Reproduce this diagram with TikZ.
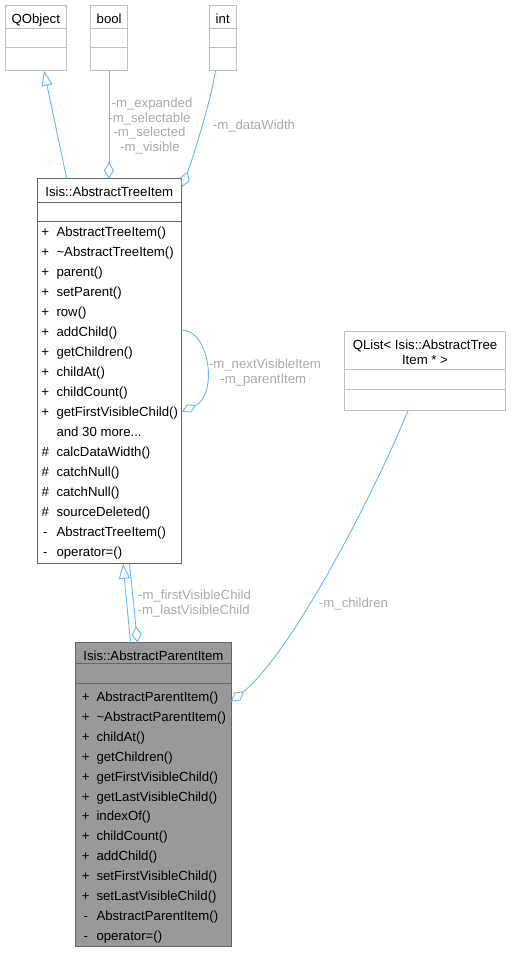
\documentclass[tikz,border=0pt]{standalone}
\usepackage{fontspec}
\setmainfont{Liberation Sans}
\usetikzlibrary{arrows.meta,calc}
\definecolor{edgeblue}{HTML}{63B8FF}
\definecolor{lblgray}{HTML}{ABABAB}
\definecolor{bdark}{HTML}{666666}
\definecolor{blight}{HTML}{BFBFBF}
\definecolor{pfill}{HTML}{999999}
\newcommand\moretxt{and 30 more...}
\begin{document}
\begin{tikzpicture}[x=1pt,y=-1pt,
  every node/.style={font=\fontsize{13.2}{15}\selectfont, inner sep=0pt, outer sep=0pt},
  umlbox/.style={draw=bdark, line width=0.9pt, rectangle, anchor=north west, inner sep=0pt},
  extbox/.style={umlbox, draw=blight},
  sepd/.style={line width=0.9pt, draw=bdark},
  sepl/.style={line width=0.9pt, draw=blight},
  ttl/.style={anchor=base},
  mem/.style={anchor=base west},
  sgn/.style={anchor=base},
  lbl/.style={text=lblgray, anchor=base},
  edge/.style={draw=edgeblue, line width=0.9pt},
  inh/.style={edge, -{Triangle[open,length=15pt,width=11pt]}},
  agg/.style={edge, {Diamond[open,length=16.5pt,width=10pt]}-},
  aggend/.style={edge, -{Diamond[open,length=15.5pt,width=9pt]}},
]
\useasboundingbox (0,0) rectangle (511,953);

% ---------- external boxes ----------
\node[extbox, minimum width=61.7pt, minimum height=65.7pt] (qobj) at (5,5) {};
\draw[sepl] ($(qobj.north west)+(0,23.3)$) -- ($(qobj.north east)+(0,23.3)$);
\draw[sepl] ($(qobj.north west)+(0,42.7)$) -- ($(qobj.north east)+(0,42.7)$);
\node[ttl] (qobjt) at (35.8,23.3) {QObject};

\node[extbox, minimum width=37pt, minimum height=65.7pt] (bool) at (90.7,5) {};
\draw[sepl] ($(bool.north west)+(0,23.3)$) -- ($(bool.north east)+(0,23.3)$);
\draw[sepl] ($(bool.north west)+(0,42.7)$) -- ($(bool.north east)+(0,42.7)$);
\node[ttl] (boolt) at (109.2,23.3) {bool};

\node[extbox, minimum width=26.7pt, minimum height=65.7pt] (int) at (209.3,5) {};
\draw[sepl] ($(int.north west)+(0,23.3)$) -- ($(int.north east)+(0,23.3)$);
\draw[sepl] ($(int.north west)+(0,42.7)$) -- ($(int.north east)+(0,42.7)$);
\node[ttl] (intt) at (222.7,23.3) {int};

\node[extbox, minimum width=161pt, minimum height=79pt] (qlist) at (344.5,331.7) {};
\draw[sepl] ($(qlist.north west)+(0,37.3)$) -- ($(qlist.north east)+(0,37.3)$);
\draw[sepl] ($(qlist.north west)+(0,57.3)$) -- ($(qlist.north east)+(0,57.3)$);
\node[ttl] (qlistt1) at (425,349.5) {QList< Isis::AbstractTree};
\node[ttl] (qlistt2) at (425,364) {Item * >};

% ---------- AbstractTreeItem ----------
\node[umlbox, fill=white, minimum width=144.5pt, minimum height=385pt] (tree) at (37,178.7) {};
\draw[sepd] ($(tree.north west)+(0,23.3)$) -- ($(tree.north east)+(0,23.3)$);
\draw[sepd] ($(tree.north west)+(0,43)$) -- ($(tree.north east)+(0,43)$);
\node[ttl] (treet) at (109.3,196.5) {Isis::AbstractTreeItem};
\foreach \s/\n [count=\i from 0] in {
  +/AbstractTreeItem(), +/\textasciitilde AbstractTreeItem(), +/parent(), +/setParent(),
  +/row(), +/addChild(), +/getChildren(), +/childAt(), +/childCount(),
  +/getFirstVisibleChild(), {}/\moretxt, \#/calcDataWidth(), \#/catchNull(),
  \#/catchNull(), \#/sourceDeleted(), -/AbstractTreeItem(), -/operator=()} {
  \node[sgn] (ts\i) at (45.3,236.5+20*\i) {\s};
  \node[mem] (tm\i) at (56.5,236.5+20*\i) {\n};
}

% ---------- AbstractParentItem ----------
\node[umlbox, fill=pfill, minimum width=155.3pt, minimum height=304pt] (parent) at (75.7,642.7) {};
\draw[sepd] ($(parent.north west)+(0,20.8)$) -- ($(parent.north east)+(0,20.8)$);
\draw[sepd] ($(parent.north west)+(0,40.3)$) -- ($(parent.north east)+(0,40.3)$);
\node[ttl] (parentt) at (153.4,660) {Isis::AbstractParentItem};
\foreach \s/\n [count=\i from 0] in {
  +/AbstractParentItem(), +/\textasciitilde AbstractParentItem(), +/childAt(),
  +/getChildren(), +/getFirstVisibleChild(), +/getLastVisibleChild(), +/indexOf(),
  +/childCount(), +/addChild(), +/setFirstVisibleChild(), +/setLastVisibleChild(),
  -/AbstractParentItem(), -/operator=()} {
  \node[sgn] (ps\i) at (85.7,701.5+19.9*\i) {\s};
  \node[mem] (pm\i) at (96.5,701.5+19.9*\i) {\n};
}

% ---------- connectors ----------
\draw[inh] ($(tree.north west)+(29.7,0)$) -- ($(qobj.south west)+(39,0)$);
\draw[agg] ($(tree.north west)+(72,0)$) -- ($(bool.south west)+(18.3,0)$);
\draw[agg] ($(tree.north east)+(0.5,8.3)$) .. controls (194,155) and (211,100) .. ($(int.south west)+(6.2,0)$);
\draw[aggend] ($(tree.north east)+(0,151.3)$) .. controls (210,330) and (218,395) .. ($(tree.north east)+(0.5,233)$);
\draw[inh] ($(parent.north west)+(54.8,0)$) -- ($(tree.south west)+(86,0)$);
\draw[agg] ($(parent.north west)+(61.8,0)$) -- ($(tree.south west)+(92.5,0)$);
\draw[agg] ($(parent.north east)+(0,59)$) .. controls (295,650) and (380,480) .. ($(qlist.south west)+(63.5,0)$);

% ---------- labels ----------
\node[lbl] (l1) at (152,107.3) {-m\_expanded};
\node[lbl] (l2) at (149.5,122) {-m\_selectable};
\node[lbl] (l3) at (149.5,136.7) {-m\_selected};
\node[lbl] (l4) at (150,151.5) {-m\_visible};
\node[lbl] (l5) at (254,129.5) {-m\_dataWidth};
\node[lbl] (l6) at (265,368) {-m\_nextVisibleItem};
\node[lbl] (l7) at (263.3,383) {-m\_parentItem};
\node[lbl] (l8) at (194.5,599.5) {-m\_firstVisibleChild};
\node[lbl] (l9) at (193.7,614) {-m\_lastVisibleChild};
\node[lbl] (l10) at (353.5,607) {-m\_children};
\end{tikzpicture}
\end{document}
